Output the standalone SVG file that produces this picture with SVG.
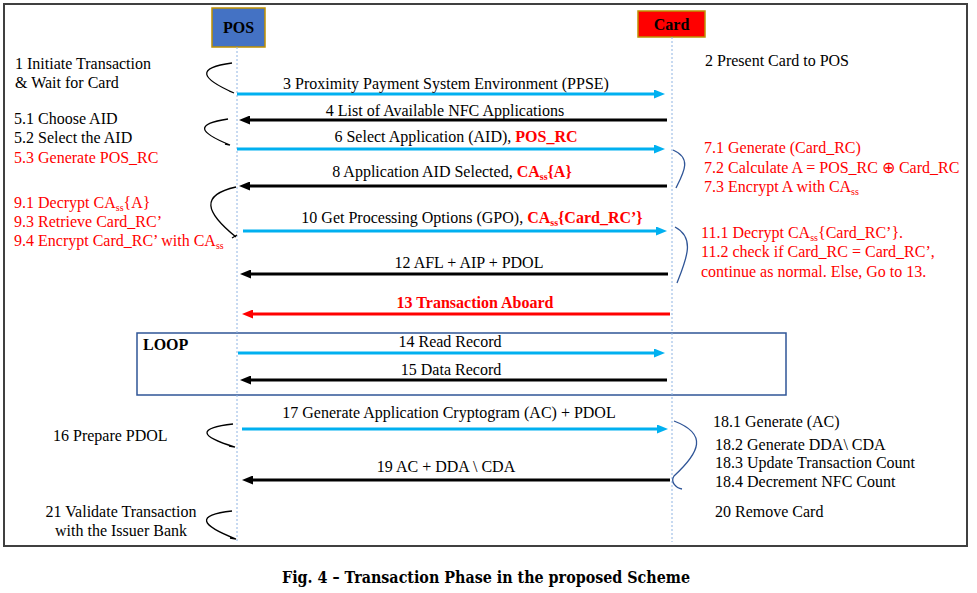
<svg xmlns="http://www.w3.org/2000/svg" width="977" height="593" viewBox="0 0 977 593">
<style>
text{font-family:"Liberation Serif","Times New Roman",serif;font-size:16px;fill:#000}
.r{fill:#FF0000}
.b{font-weight:bold}
.sub{font-size:10px}
.life{stroke:#8FB4E3;stroke-width:1;stroke-dasharray:2 2;fill:none}
.blue{stroke:#00B0F0;stroke-width:3;fill:none}
.blk{stroke:#000;stroke-width:3;fill:none}
.red{stroke:#FF0000;stroke-width:3;fill:none}
.cur{stroke:#000;stroke-width:1.3;fill:none}
.brc{stroke:#2F5597;stroke-width:1.3;fill:none}
</style>
<defs>
<marker id="ab" markerUnits="userSpaceOnUse" markerWidth="11" markerHeight="9" refX="2" refY="4.5" orient="auto"><path d="M0,0 L11,4.5 L0,9 z" fill="#00B0F0"/></marker>
<marker id="ak" markerUnits="userSpaceOnUse" markerWidth="11" markerHeight="9" refX="2" refY="4.5" orient="auto"><path d="M0,0 L11,4.5 L0,9 z" fill="#000"/></marker>
<marker id="ar" markerUnits="userSpaceOnUse" markerWidth="11" markerHeight="9" refX="2" refY="4.5" orient="auto"><path d="M0,0 L11,4.5 L0,9 z" fill="#FF0000"/></marker>
</defs>
<rect x="0" y="0" width="977" height="593" fill="#fff"/>
<rect x="4" y="4" width="963" height="542" fill="none" stroke="#404040" stroke-width="2"/>

<g id="loop">
<rect x="137" y="333" width="649" height="62" fill="none" stroke="#2F5597" stroke-width="1.5"/>
<text x="143" y="350" class="b">LOOP</text>
</g>

<g id="pos">
<rect x="212" y="8" width="53" height="39" fill="#4472C4" stroke="#BF9000" stroke-width="1.5"/>
<text x="238.5" y="33" class="b" text-anchor="middle">POS</text>
<line x1="237" y1="47" x2="237" y2="542" class="life"/>
</g>
<g id="card">
<rect x="638" y="11" width="67" height="26" fill="#FF0000" stroke="#BF9000" stroke-width="1.5"/>
<text x="671.5" y="30" class="b" text-anchor="middle">Card</text>
<line x1="672" y1="37" x2="672" y2="542" class="life"/>
</g>

<g id="connectors">
<line x1="237" y1="94" x2="656" y2="94" class="blue" marker-end="url(#ab)"/>
<line x1="667" y1="120" x2="248" y2="120" class="blk" marker-end="url(#ak)"/>
<line x1="237" y1="149" x2="656" y2="149" class="blue" marker-end="url(#ab)"/>
<line x1="667" y1="186" x2="248" y2="186" class="blk" marker-end="url(#ak)"/>
<line x1="243" y1="231" x2="658" y2="231" class="blue" marker-end="url(#ab)"/>
<line x1="668" y1="274" x2="249" y2="274" class="blk" marker-end="url(#ak)"/>
<line x1="670" y1="314" x2="251" y2="314" class="red" marker-end="url(#ar)"/>
<line x1="238" y1="353" x2="656" y2="353" class="blue" marker-end="url(#ab)"/>
<line x1="667" y1="380" x2="249" y2="380" class="blk" marker-end="url(#ak)"/>
<line x1="242" y1="429" x2="659" y2="429" class="blue" marker-end="url(#ab)"/>
<line x1="670" y1="480" x2="251" y2="480" class="blk" marker-end="url(#ak)"/>
</g>

<g id="msg-labels">
<text x="446" y="89" text-anchor="middle">3 Proximity Payment System Environment (PPSE)</text>
<text x="445" y="116" text-anchor="middle">4 List of Available NFC Applications</text>
<text x="456" y="142" text-anchor="middle">6 Select Application (AID), <tspan class="r b">POS_RC</tspan></text>
<text x="452" y="177" text-anchor="middle">8 Application AID Selected, <tspan class="r b">CA</tspan><tspan class="r b sub" dy="3">ss</tspan><tspan class="r b" dy="-3">{A}</tspan></text>
<text x="472" y="223" text-anchor="middle">10 Get Processing Options (GPO), <tspan class="r b">CA</tspan><tspan class="r b sub" dy="3">ss</tspan><tspan class="r b" dy="-3">{Card_RC’}</tspan></text>
<text x="469" y="268" text-anchor="middle">12 AFL + AIP + PDOL</text>
<text x="475" y="308" text-anchor="middle" class="r b">13 Transaction Aboard</text>
<text x="450" y="347" text-anchor="middle">14  Read Record</text>
<text x="451" y="375" text-anchor="middle">15 Data Record</text>
<text x="449" y="418" text-anchor="middle">17 Generate Application Cryptogram (AC) + PDOL</text>
<text x="446" y="472" text-anchor="middle">19 AC + DDA \ CDA</text>
</g>

<g id="pos-notes">
<path d="M232,63 C196,68 200,78 234,93 M229,91 L234,93" class="cur"/>
<text x="15" y="69">1 Initiate Transaction</text>
<text x="15" y="88">&amp; Wait for Card</text>
<path d="M228,119 C195,124 198,132 230,145 M225,144 L230,145" class="cur"/>
<text x="14" y="124">5.1 Choose AID</text>
<text x="14" y="143">5.2 Select the AID</text>
<text x="14" y="163" class="r">5.3 Generate POS_RC</text>
<path d="M236,187 C200,195 205,212 236,237 M232,238 L237,235" class="cur"/>
<text x="14" y="208" class="r">9.1 Decrypt CA<tspan class="sub" dy="3">ss</tspan><tspan dy="-3">{A}</tspan></text>
<text x="14" y="227" class="r">9.3 Retrieve Card_RC’</text>
<text x="14" y="246" class="r">9.4 Encrypt Card_RC’ with CA<tspan class="sub" dy="3">ss</tspan></text>
<path d="M233,424 C198,428 198,436 235,447 M229,446 L235,447" class="cur"/>
<text x="53" y="441">16 Prepare PDOL</text>
<path d="M232,511 C195,515 200,525 236,539 M230,538 L236,539" class="cur"/>
<text x="121" y="517" text-anchor="middle">21 Validate Transaction</text>
<text x="121" y="536" text-anchor="middle">with the Issuer Bank</text>
</g>

<g id="card-notes">
<text x="705" y="66">2 Present Card to POS</text>
<path d="M673,150 C692,158 684,172 676,188" class="brc"/>
<text x="704" y="153" class="r">7.1 Generate (Card_RC)</text>
<text x="704" y="173" class="r">7.2 Calculate A = POS_RC ⊕ Card_RC</text>
<text x="704" y="192" class="r">7.3 Encrypt A with CA<tspan class="sub" dy="3">ss</tspan></text>
<path d="M675,227 C696,238 686,260 677,283" class="brc"/>
<text x="701" y="238" class="r">11.1 Decrypt CA<tspan class="sub" dy="3">ss</tspan><tspan dy="-3">{Card_RC’}.</tspan></text>
<text x="701" y="257" class="r">11.2 check if Card_RC = Card_RC’,</text>
<text x="701" y="277" class="r">continue as normal. Else, Go to 13.</text>
<path d="M674,421 C708,434 700,452 674,476 C670,482 676,488 682,489" class="brc"/>
<text x="713" y="427">18.1 Generate (AC)</text>
<text x="715" y="450">18.2 Generate DDA\ CDA</text>
<text x="715" y="468">18.3 Update Transaction Count</text>
<text x="715" y="487">18.4 Decrement NFC Count</text>
<text x="715" y="517">20 Remove Card</text>
</g>

<text x="486" y="583" text-anchor="middle" style="font-family:'DejaVu Serif',serif;font-weight:bold;font-size:16px" textLength="408" lengthAdjust="spacingAndGlyphs">Fig. 4 – Transaction Phase in the proposed Scheme</text>
</svg>
